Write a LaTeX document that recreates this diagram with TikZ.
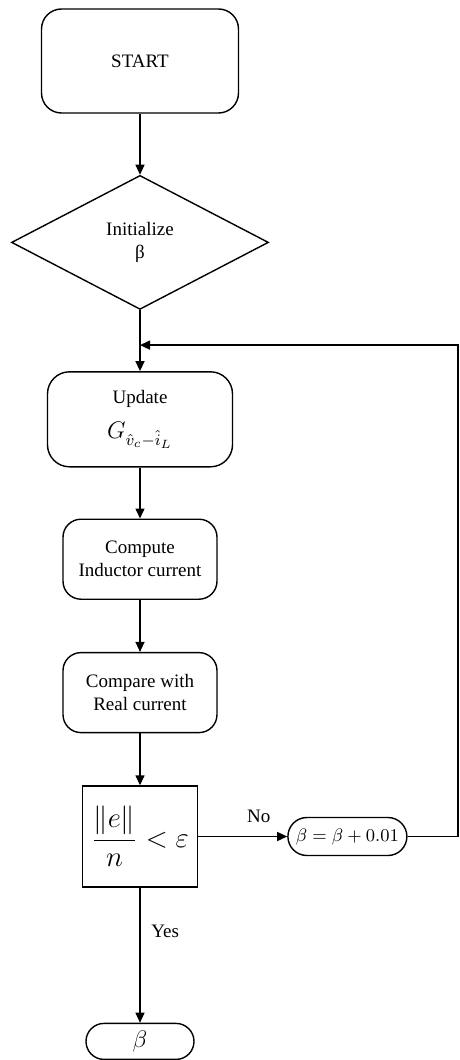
\documentclass[tikz,border=0pt]{standalone}
\usepackage{fontspec}
\setmainfont{Liberation Serif}
\usetikzlibrary{positioning, shapes.geometric, arrows.meta}

\begin{document}
\begin{tikzpicture}[
					font=\fontsize{9.5}{11.5}\selectfont,
					line width=0.7pt,
					>={Triangle[length=5pt,width=4.5pt]},
					startbox/.style={draw, rounded corners=10pt, minimum width=98.5pt, minimum height=52pt, align=center},
					stepbox/.style={draw, rounded corners=9pt, minimum width=77pt, minimum height=40pt, align=center, inner sep=2pt},
					initbox/.style={draw, diamond, minimum width=128.5pt, minimum height=67pt, align=center, inner sep=0pt},
					ovalbox/.style={draw, rounded corners=9.5pt, minimum height=19pt, inner sep=2pt}
					]
					\useasboundingbox (0,0) rectangle (230pt,-530pt);
					\node[startbox] (start) at (70pt,-30.5pt) {START};
					\node[initbox, below=30.5pt of start] (init) {Initialize\\β};
					\node[stepbox, minimum width=92.5pt, minimum height=47.5pt, rounded corners=11pt, below=30.5pt of init] (update)
					{Update\\[6pt]{\large$G_{\hat{v}_c-\hat{i}_L}$}};
					\node[stepbox, below=25.5pt of update] (compute) {Compute\\Inductor current};
					\node[stepbox, below=26pt of compute] (compare) {Compare with\\Real current};
					\node[draw, minimum width=57.5pt, minimum height=50.5pt, below=26pt of compare] (test)
					{\Large$\displaystyle\frac{\|e\|}{n}<\varepsilon$};
					\node[ovalbox, minimum width=59.5pt, right=44.5pt of test] (incr) {\small$\beta=\beta+0.01$};
					\node[ovalbox, minimum width=54pt, minimum height=18pt, rounded corners=9pt, below=67.5pt of test] (result) {\large$\beta$};
					\coordinate[below=17.5pt of init] (join);
					\coordinate (edge) at (229pt,0);
					% main flow
					\draw[->] (start) -- (init);
					\draw[->] (init) -- (update);
					\draw[->] (update) -- (compute);
					\draw[->] (compute) -- (compare);
					\draw[->] (compare) -- (test);
					\draw[->] (test) -- node[above=3pt, pos=0.68] {No} (incr);
					\draw[->] (test) -- node[right=2pt, pos=0.32] {Yes} (result);
					% loop back
					\draw[->] (incr.east) -- (incr.east -| edge) |- (join);
				\end{tikzpicture}
\end{document}
